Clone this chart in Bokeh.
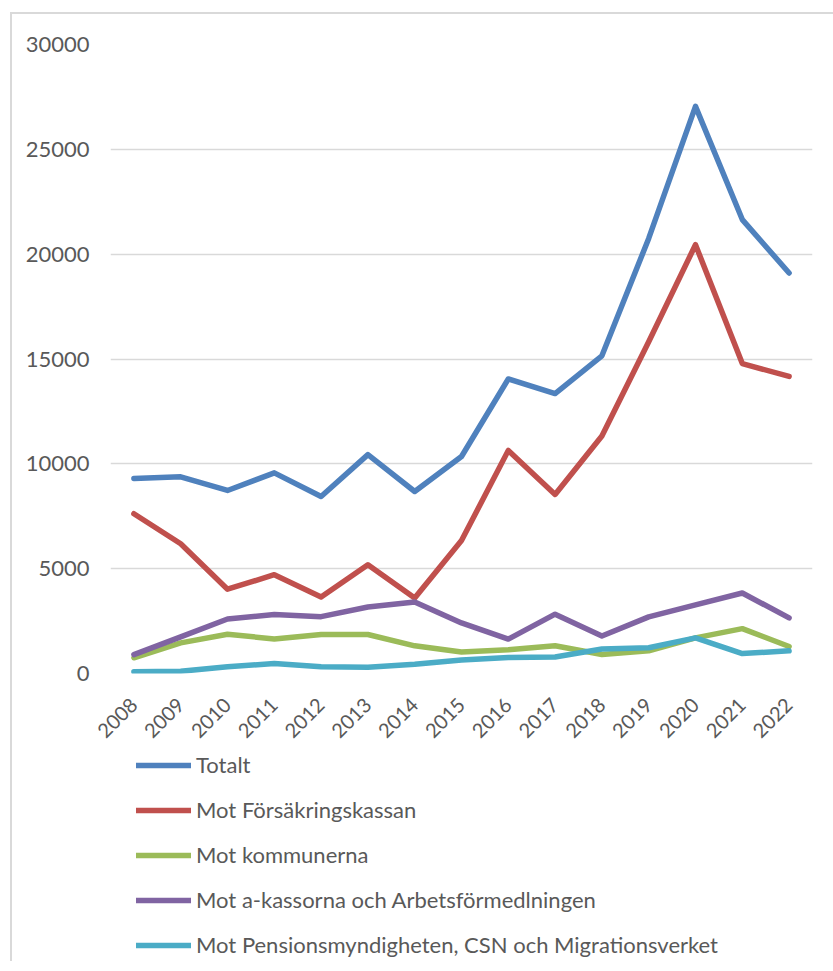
from bokeh.plotting import figure
from bokeh.layouts import column
from bokeh.models import FactorRange, Range1d, FixedTicker, Legend, LegendItem
from bokeh.embed import file_html
from bokeh.resources import INLINE
from math import pi

years = ["2008", "2009", "2010", "2011", "2012", "2013", "2014", "2015",
         "2016", "2017", "2018", "2019", "2020", "2021", "2022"]

totalt = [9300, 9380, 8730, 9570, 8440, 10440, 8680, 10350,
          14050, 13350, 15150, 20750, 27050, 21650, 19100]
forsakringskassan = [7620, 6190, 4020, 4710, 3650, 5190, 3600, 6340,
                     10640, 8540, 11330, 15820, 20450, 14780, 14170]
kommunerna = [750, 1460, 1870, 1650, 1860, 1860, 1320, 1030,
              1130, 1320, 910, 1080, 1700, 2140, 1290]
akassorna = [900, 1750, 2600, 2810, 2710, 3170, 3410, 2410,
             1640, 2830, 1790, 2700, 3270, 3840, 2650]
pensions = [80, 110, 320, 480, 320, 300, 440, 640,
            760, 790, 1170, 1230, 1700, 950, 1080]

series_names = ["Totalt", "Mot Försäkringskassan", "Mot kommunerna",
                "Mot a-kassorna och Arbetsförmedlningen",
                "Mot Pensionsmyndigheten, CSN och Migrationsverket"]
series_values = [totalt, forsakringskassan, kommunerna, akassorna, pensions]
colors = ["#4f81bd", "#c0504d", "#9bbb59", "#8064a2", "#4bacc6"]

y_ticks = [0, 5000, 10000, 15000, 20000, 25000, 30000]

FONT = "Lato"
TXT = "#595959"
W = 821
LW = 5.5

# main chart
p = figure(x_range=FactorRange(*years), y_range=Range1d(0, 30000),
           width=W, height=737, output_backend="svg", toolbar_location=None,
           min_border_left=98, min_border_right=W - 98 - 702, min_border_top=30,
           min_border_bottom=78)
p.outline_line_color = None
p.background_fill_color = "white"
p.border_fill_color = "white"

p.xgrid.grid_line_color = None
p.ygrid.grid_line_color = "#d9d9d9"
p.ygrid.grid_line_width = 1.5
p.yaxis.ticker = FixedTicker(ticks=y_ticks)

for ax in (p.xaxis[0], p.yaxis[0]):
    ax.axis_line_color = None
    ax.major_tick_line_color = None
    ax.minor_tick_line_color = None
    ax.major_tick_out = 0
    ax.major_tick_in = 0
    ax.major_label_text_font = FONT
    ax.major_label_text_color = TXT

p.xaxis.major_label_text_font_size = "20px"
p.yaxis.major_label_text_font_size = "22px"
p.yaxis.major_label_standoff = 21
p.xaxis.major_label_orientation = pi / 4
p.xaxis.major_label_standoff = 28

for vals, c in zip(series_values, colors):
    p.line(x=years, y=vals, line_color=c, line_width=LW,
           line_cap="round", line_join="round")

# legend strip (same series, drawn out of view so only the legend shows)
H2 = 210
q = figure(width=W, height=H2, x_range=FactorRange(*years),
           y_range=Range1d(-2, -1),
           x_axis_type=None, y_axis_type=None, output_backend="svg",
           toolbar_location=None, min_border_left=0, min_border_right=0,
           min_border_top=0, min_border_bottom=0)
q.outline_line_color = None
q.grid.grid_line_color = None
q.border_fill_color = "white"
q.background_fill_color = "white"

items = []
for name, vals, c in zip(series_names, series_values, colors):
    r = q.line(x=years, y=vals, line_color=c, line_width=LW, line_cap="round")
    items.append(LegendItem(label=name, renderers=[r]))

legend = Legend(items=items, location=(26, 3), orientation="vertical",
                glyph_width=55, glyph_height=20, label_height=20, spacing=18,
                label_standoff=5, padding=0, margin=0,
                border_line_color=None, background_fill_alpha=0,
                label_text_font=FONT, label_text_font_size="22px",
                label_text_color=TXT)
q.add_layout(legend, "center")

layout = column(p, q, spacing=0)
layout.styles = {"border-left": "2px solid #d9d9d9", "border-top": "2px solid #d9d9d9"}
layout.margin = (12, 0, 0, 10)

open("out.html", "w").write(file_html(layout, INLINE))
